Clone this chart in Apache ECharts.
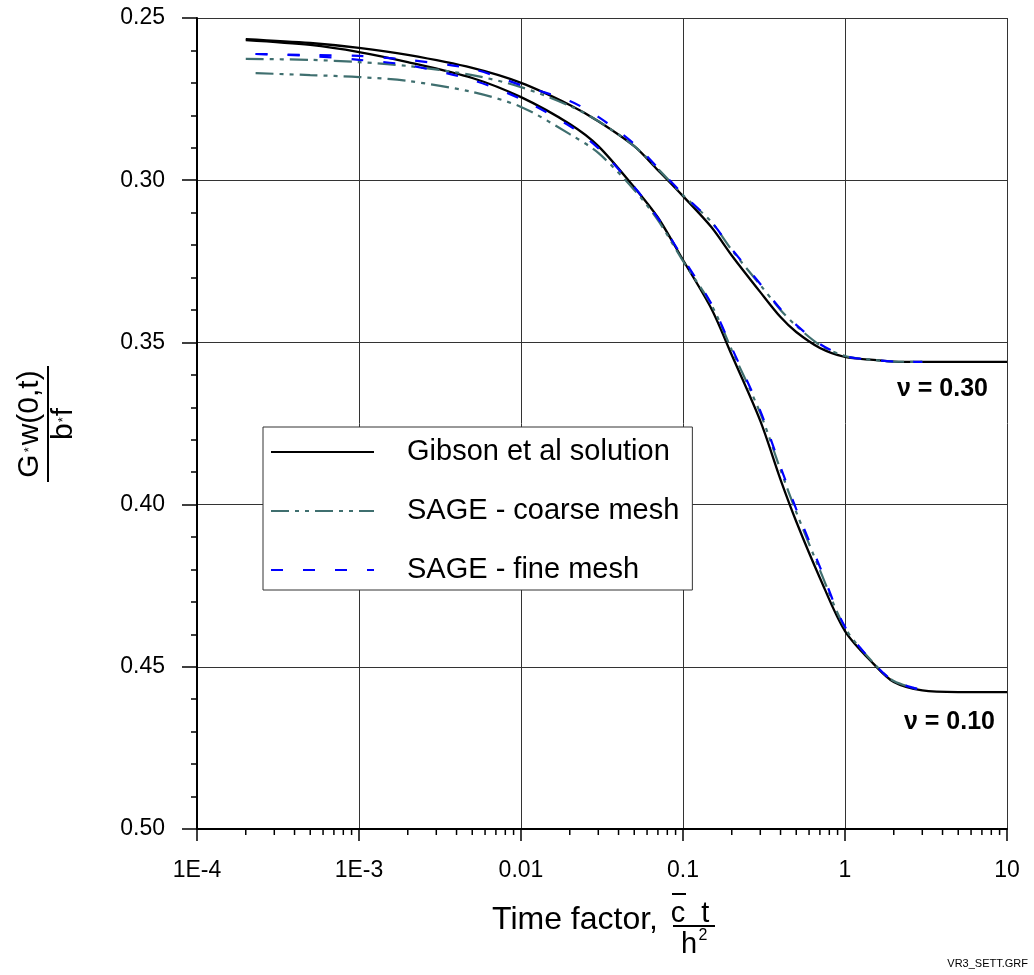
<!DOCTYPE html>
<html>
<head>
<meta charset="utf-8">
<script src="https://cdn.jsdelivr.net/npm/echarts@6/dist/echarts.min.js"></script>
<style>
html,body{margin:0;padding:0;background:#fff;}
#chart{width:1034px;height:975px;}
</style>
</head>
<body>
<div id="chart"></div>
<script>
// ---- data ----
var xTickLabels = ['1E-4', '1E-3', '0.01', '0.1', '1', '10'];
var yTickLabels = ['0.25', '0.30', '0.35', '0.40', '0.45', '0.50'];

var gibsonX = [2e-4, 5e-4, 1e-3, 2e-3, 5e-3, 0.01, 0.02, 0.03, 0.05, 0.07, 0.1, 0.15, 0.2, 0.3, 0.4, 0.5, 0.7, 1, 1.5, 2, 3, 5, 10];
var gibsonNu30 = [0.2565, 0.2577, 0.2592, 0.2614, 0.2654, 0.2700, 0.2768, 0.2818, 0.2895, 0.2969, 0.3049, 0.3145, 0.3232, 0.3345, 0.3422, 0.3468, 0.3517, 0.3545, 0.3554, 0.3559, 0.3560, 0.3560, 0.3560];
var gibsonNu10 = [0.2568, 0.2583, 0.2605, 0.2636, 0.2685, 0.2744, 0.2827, 0.2895, 0.3022, 0.3115, 0.3246, 0.3397, 0.3539, 0.3742, 0.3923, 0.4052, 0.4226, 0.4390, 0.4491, 0.4547, 0.4573, 0.4578, 0.4578];

var coarseX30 = [2e-4, 5e-4, 1e-3, 2e-3, 5e-3, 0.01, 0.02, 0.03, 0.05, 0.07, 0.1, 0.15, 0.2, 0.3, 0.4, 0.5, 0.7, 1, 1.5, 2, 3];
var coarseNu30 = [0.2626, 0.2629, 0.2636, 0.2648, 0.2676, 0.2713, 0.2771, 0.2818, 0.2895, 0.2965, 0.3046, 0.3129, 0.3215, 0.3323, 0.3400, 0.3449, 0.3508, 0.3542, 0.3554, 0.3559, 0.3560];
var coarseX10 = [2.3e-4, 5e-4, 1e-3, 2e-3, 5e-3, 0.01, 0.02, 0.03, 0.05, 0.07, 0.1, 0.15, 0.2, 0.3, 0.4, 0.5, 0.7, 1, 1.5, 2, 3];
var coarseNu10 = [0.2670, 0.2676, 0.2682, 0.2694, 0.2728, 0.2774, 0.2858, 0.2916, 0.3030, 0.3123, 0.3249, 0.3385, 0.3523, 0.3718, 0.3893, 0.4023, 0.4202, 0.4380, 0.4488, 0.4544, 0.4572];

var fineX = [2.3e-4, 5e-4, 1e-3, 2e-3, 5e-3, 0.01, 0.02, 0.03, 0.05, 0.07, 0.1, 0.15, 0.2, 0.3, 0.4, 0.5, 0.7, 1, 1.5, 2, 3];
var fineNu30 = [0.2611, 0.2614, 0.2617, 0.2629, 0.2657, 0.2707, 0.2756, 0.2805, 0.2888, 0.2962, 0.3043, 0.3129, 0.3212, 0.3320, 0.3397, 0.3446, 0.3505, 0.3542, 0.3554, 0.3559, 0.3560];
var fineNu10 = [0.2611, 0.2617, 0.2629, 0.2645, 0.2691, 0.2750, 0.2833, 0.2901, 0.3021, 0.3117, 0.3240, 0.3382, 0.3517, 0.3711, 0.3884, 0.4014, 0.4192, 0.4377, 0.4488, 0.4544, 0.4572];

var xMinorTicks = [2e-4,3e-4,4e-4,5e-4,6e-4,7e-4,8e-4,9e-4,
  2e-3,3e-3,4e-3,5e-3,6e-3,7e-3,8e-3,9e-3,
  0.02,0.03,0.04,0.05,0.06,0.07,0.08,0.09,
  0.2,0.3,0.4,0.5,0.6,0.7,0.8,0.9,
  2,3,4,5,6,7,8,9];

var legendNames = ['Gibson et al solution', 'SAGE - coarse mesh', 'SAGE - fine mesh'];

function pairs(xs, ys) { return xs.map(function (x, i) { return [x, ys[i]]; }); }

var FONT = '"Liberation Sans", Arial, Helvetica, sans-serif';
var chart = echarts.init(document.getElementById('chart'), null, {renderer: 'canvas'});

function lineSeries(name, data, color, type, width) {
  return {
    type: 'line', name: name, data: data, showSymbol: false, symbol: 'circle',
    smooth: 0.3,
    lineStyle: {color: color, width: width, type: type},
    itemStyle: {color: color},
    emphasis: {disabled: true}, animation: false
  };
}
var COARSE = '#3f6f6f';
var COARSE_DASH = [18, 6, 4, 6, 4, 6];
var FINE_DASH = [12, 20];

var option = {
  backgroundColor: '#fff',
  animation: false,
  grid: {left: 197, right: 27, top: 18, bottom: 146},
  xAxis: {
    type: 'log', logBase: 10, min: 1e-4, max: 10,
    axisLine: {show: true, onZero: false, lineStyle: {color: '#000', width: 2}},
    axisTick: {show: true, length: 12, lineStyle: {color: '#000', width: 1.5}},
    minorTick: {show: false},
    splitLine: {show: true, lineStyle: {color: '#333', width: 1}},
    axisLabel: {
      fontFamily: FONT, fontSize: 23, color: '#000', margin: 30,
      formatter: function (v) { return xTickLabels[Math.round(Math.log10(v)) + 4]; }
    }
  },
  yAxis: {
    type: 'value', inverse: true, min: 0.25, max: 0.50, interval: 0.05,
    axisLine: {show: true, onZero: false, lineStyle: {color: '#000', width: 2}},
    axisTick: {show: true, length: 15, lineStyle: {color: '#000', width: 1.5}},
    minorTick: {show: true, splitNumber: 5, length: 6, lineStyle: {color: '#000', width: 1.5}},
    splitLine: {show: true, lineStyle: {color: '#333', width: 1}},
    axisLabel: {
      fontFamily: FONT, fontSize: 23, color: '#000', margin: 32,
      formatter: function (v) { return yTickLabels[Math.round((v - 0.25) / 0.05)]; }
    }
  },
  legend: {
    data: legendNames,
    orient: 'vertical', left: 263, top: 427,
    itemWidth: 103, itemHeight: 14, itemGap: 27,
    padding: [9, 13, 4, 7],
    backgroundColor: '#fff', borderColor: '#333', borderWidth: 1,
    selectedMode: false,
    itemStyle: {color: 'rgba(0,0,0,0)', borderColor: 'rgba(0,0,0,0)', borderWidth: 0},
    textStyle: {fontFamily: FONT, fontSize: 29, color: '#000', lineHeight: 32, padding: [0, 0, 0, 28]}
  },
  series: [
    lineSeries(legendNames[0], pairs(gibsonX, gibsonNu30), '#000', 'solid', 2.3),
    lineSeries(legendNames[0], pairs(gibsonX, gibsonNu10), '#000', 'solid', 2.3),
    lineSeries(legendNames[1], pairs(coarseX30, coarseNu30), COARSE, COARSE_DASH, 2.2),
    lineSeries(legendNames[1], pairs(coarseX10, coarseNu10), COARSE, COARSE_DASH, 2.2),
    lineSeries(legendNames[2], pairs(fineX, fineNu30), '#0000ff', FINE_DASH, 2.2),
    lineSeries(legendNames[2], pairs(fineX, fineNu10), '#0000ff', FINE_DASH, 2.2),
    {
      type: 'custom', name: 'xminor', silent: true, clip: false, z: 5,
      data: xMinorTicks.map(function (v) { return [v, 0.5]; }),
      renderItem: function (params, api) {
        var p = api.coord([api.value(0), api.value(1)]);
        return {type: 'line', shape: {x1: p[0], y1: p[1], x2: p[0], y2: p[1] + 6},
          style: {stroke: '#000', lineWidth: 1.5}};
      }
    }
  ],
  graphic: [
    {
      type: 'group', x: 48, y: 424, rotation: Math.PI / 2,
      children: [
        {type: 'text', x: 0, y: -3, style: {
          text: '{a|G}{s|*}{a|w(0,t)}', align: 'center', verticalAlign: 'bottom',
          rich: {a: {fontFamily: FONT, fontSize: 30, fill: '#000'}, s: {fontFamily: FONT, fontSize: 13, fill: '#000', padding: [0, 2, 2, 2]}}
        }},
        {type: 'line', shape: {x1: -58, y1: 0, x2: 58, y2: 0}, style: {stroke: '#000', lineWidth: 2}},
        {type: 'text', x: 0, y: 1, style: {
          text: '{a|b}{s|*}{a|f}', align: 'center', verticalAlign: 'top',
          rich: {a: {fontFamily: FONT, fontSize: 30, fill: '#000'}, s: {fontFamily: FONT, fontSize: 13, fill: '#000', padding: [0, 1, 2, 1]}}
        }}
      ]
    },
    {type: 'text', x: 658, y: 920, style: {text: 'Time factor,', font: '32px ' + FONT, fill: '#000', align: 'right', verticalAlign: 'middle'}},
    {type: 'text', x: 690, y: 914, style: {text: 'c  t', font: '29px ' + FONT, fill: '#000', align: 'center', verticalAlign: 'middle'}},
    {type: 'line', shape: {x1: 672, y1: 894, x2: 686, y2: 894}, style: {stroke: '#000', lineWidth: 2}},
    {type: 'line', shape: {x1: 673, y1: 926, x2: 715, y2: 926}, style: {stroke: '#000', lineWidth: 2}},
    {type: 'text', x: 689, y: 945, style: {text: 'h', font: '29px ' + FONT, fill: '#000', align: 'center', verticalAlign: 'middle'}},
    {type: 'text', x: 703, y: 936, style: {text: '2', font: '16px ' + FONT, fill: '#000', align: 'center', verticalAlign: 'middle'}},
    {type: 'text', x: 988, y: 389, style: {text: 'ν = 0.30', font: 'bold 25px ' + FONT, fill: '#000', align: 'right', verticalAlign: 'middle'}},
    {type: 'text', x: 995, y: 722, style: {text: 'ν = 0.10', font: 'bold 25px ' + FONT, fill: '#000', align: 'right', verticalAlign: 'middle'}},
    {type: 'text', x: 1028, y: 964, style: {text: 'VR3_SETT.GRF', font: '11px ' + FONT, fill: '#000', align: 'right', verticalAlign: 'middle'}}
  ]
};
chart.setOption(option);
</script>
</body>
</html>
